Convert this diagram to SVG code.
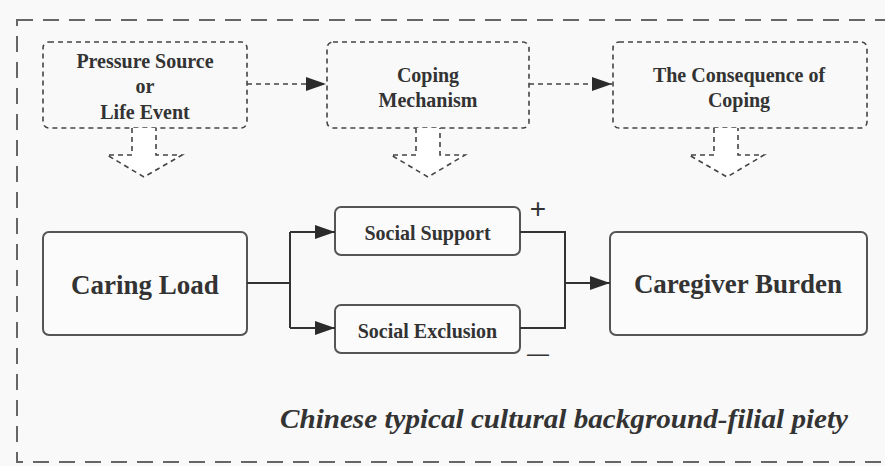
<svg xmlns="http://www.w3.org/2000/svg" width="885" height="466" viewBox="0 0 885 466">
<style>
.bg{fill:#f9f9f9}
.frame{fill:none;stroke:#666;stroke-width:2;stroke-dasharray:16 10}
.dbox{fill:#f9f9f9;stroke:#444;stroke-width:1.6;stroke-dasharray:5 4}
.sbox{fill:#fbfbfb;stroke:#555;stroke-width:2}
.t{font-family:"Liberation Serif","Times New Roman",serif;font-weight:bold;fill:#333;text-anchor:middle}
.s20{font-size:20px}
.s27{font-size:27px}
.dline{fill:none;stroke:#444;stroke-width:1.6;stroke-dasharray:5 4}
.line{fill:none;stroke:#333;stroke-width:2}
.harrow{fill:#fff;stroke:#444;stroke-width:1.6;stroke-dasharray:5 4}
.cap{font-family:"Liberation Serif","Times New Roman",serif;font-style:italic;font-weight:bold;font-size:28px;fill:#333}
</style>
<defs>
<marker id="ah" viewBox="0 0 20 14" refX="20" refY="7" markerWidth="20" markerHeight="14" markerUnits="userSpaceOnUse" orient="auto">
<path d="M0,0 L20,7 L0,14 Z" fill="#2b2b2b"/>
</marker>
</defs>
<rect class="bg" x="0" y="0" width="885" height="466"/>
<rect class="frame" x="17" y="20" width="900" height="442"/>

<g id="n-pressure">
<rect class="dbox" x="43" y="42" width="204" height="86" rx="6"/>
<text class="t s20" x="145" y="68">Pressure Source</text>
<text class="t s20" x="145" y="93">or</text>
<text class="t s20" x="145" y="119">Life Event</text>
</g>
<g id="n-coping">
<rect class="dbox" x="327" y="42" width="202" height="86" rx="6"/>
<text class="t s20" x="428" y="82">Coping</text>
<text class="t s20" x="428" y="107">Mechanism</text>
</g>
<g id="n-consequence">
<rect class="dbox" x="613" y="42" width="254" height="86" rx="6"/>
<text class="t s20" x="739" y="82">The Consequence of</text>
<text class="t s20" x="739" y="107">Coping</text>
</g>

<g id="n-caring">
<rect class="sbox" x="43" y="232" width="204" height="103" rx="6"/>
<text class="t s27" x="145" y="294">Caring Load</text>
</g>
<g id="n-support">
<rect class="sbox" x="335" y="207" width="185" height="48" rx="6"/>
<text class="t s20" x="427.5" y="240">Social Support</text>
</g>
<g id="n-exclusion">
<rect class="sbox" x="335" y="305" width="185" height="48" rx="6"/>
<text class="t s20" x="427.5" y="338">Social Exclusion</text>
</g>
<g id="n-burden">
<rect class="sbox" x="610" y="232" width="257" height="103" rx="6"/>
<text class="t s27" x="738" y="293">Caregiver Burden</text>
</g>

<g id="connectors">
<path class="dline" d="M247,84 H326" marker-end="url(#ah)"/>
<path class="dline" d="M529,84 H612" marker-end="url(#ah)"/>
<path class="harrow" d="M132,128 V155 H107 L144,177 L182,155 H156 V128"/>
<path class="harrow" d="M416,128 V155 H391 L428,177 L465,155 H440 V128"/>
<path class="harrow" d="M714,128 V155 H689 L727,177 L764,155 H738 V128"/>
<path class="line" d="M247,283 H290"/>
<path class="line" d="M290,232 V328"/>
<path class="line" d="M290,232 H335" marker-end="url(#ah)"/>
<path class="line" d="M290,328 H335" marker-end="url(#ah)"/>
<path class="line" d="M520,232 H565 V328 H520"/>
<path class="line" d="M565,283 H610" marker-end="url(#ah)"/>
<text x="538" y="218" font-family="Liberation Sans, Arial, sans-serif" font-size="28" fill="#333" text-anchor="middle">+</text>
<text x="538" y="361" font-family="Liberation Sans, Arial, sans-serif" font-size="22" fill="#333" text-anchor="middle">—</text>
</g>

<text class="cap" x="280" y="428" textLength="568" lengthAdjust="spacingAndGlyphs">Chinese typical cultural background-filial piety</text>
</svg>
